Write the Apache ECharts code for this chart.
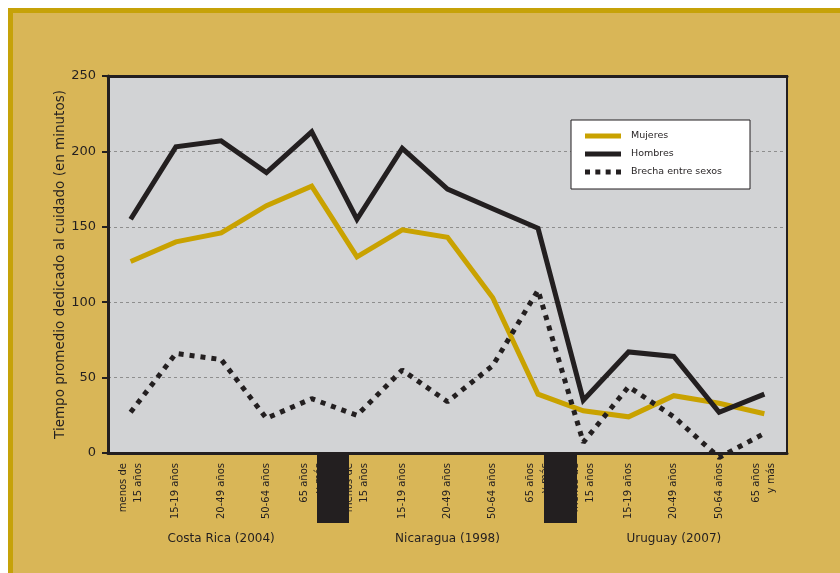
<!DOCTYPE html>
<html>
<head>
<meta charset="utf-8">
<script src="https://cdn.jsdelivr.net/npm/echarts@6/dist/echarts.min.js"></script>
<style>
  html, body { margin: 0; padding: 0; background: #fff; }
  #chart { width: 840px; height: 573px; }
</style>
</head>
<body>
<div id="chart"></div>
<script>
// categorias (3 paises x 5 grupos de edad)
const ageGroups = ['menos de\n15 años', '15-19 años', '20-49 años', '50-64 años', '65 años\ny más'];
const categories = [].concat(ageGroups, ageGroups, ageGroups);
const countries = ['Costa Rica (2004)', 'Nicaragua (1998)', 'Uruguay (2007)'];

const mujeres = [127, 140, 146, 164, 177, 130, 148, 143, 103, 39, 28, 24, 38, 33, 26];
const hombres = [155, 203, 207, 186, 213, 155, 202, 175, 162, 149, 35, 67, 64, 27, 39];
const brecha = [27, 66, 62, 23, 36, 25, 55, 34, 58, 108, 7, 44, 24, -3, 13];

const yTicks = [0, 50, 100, 150, 200, 250];

const dark = '#231F20';
const gold = '#C9A200';
const fontFamily = '"DejaVu Sans", sans-serif';
const dotsIcon = 'path://M0,0h5v5h-5z M10.33,0h5v5h-5z M20.67,0h5v5h-5z M31,0h5v5h-5z';

const chart = echarts.init(document.getElementById('chart'));

const option = {
  backgroundColor: '#fff',
  textStyle: { fontFamily: fontFamily },
  animation: false,
  graphic: [
    {
      type: 'rect',
      z: -10,
      shape: { x: 10.5, y: 10.5, width: 900, height: 700 },
      style: { fill: '#D9B657', stroke: '#C6A208', lineWidth: 5 }
    },
    {
      type: 'rect',
      z: 100,
      shape: { x: 317, y: 453, width: 32, height: 70 },
      style: { fill: dark }
    },
    {
      type: 'rect',
      z: 100,
      shape: { x: 544, y: 453, width: 33, height: 70 },
      style: { fill: dark }
    }
  ],
  grid: {
    left: 108,
    top: 76,
    right: 53,
    bottom: 120,
    show: true,
    backgroundColor: '#D2D3D5',
    borderColor: dark,
    borderWidth: 2
  },
  legend: {
    orient: 'vertical',
    left: 571,
    top: 120,
    backgroundColor: '#fff',
    borderColor: dark,
    borderWidth: 1,
    borderRadius: 0,
    padding: [11, 28, 12, 14],
    itemWidth: 36,
    itemHeight: 5,
    itemGap: 8,
    textStyle: { fontSize: 9.5, color: dark, fontFamily: fontFamily, padding: [0, 0, 0, 5] },
    data: [
      { name: 'Mujeres', icon: 'rect' },
      { name: 'Hombres', icon: 'rect' },
      { name: 'Brecha entre sexos', icon: dotsIcon }
    ]
  },
  xAxis: [
    {
      type: 'category',
      data: categories,
      boundaryGap: true,
      axisLine: { lineStyle: { color: dark, width: 3 } },
      axisTick: { length: 6, lineStyle: { color: dark, width: 2 } },
      axisLabel: {
        interval: 0,
        rotate: 90,
        margin: 10,
        fontSize: 10,
        lineHeight: 15,
        color: dark,
        fontFamily: fontFamily
      }
    },
    {
      type: 'category',
      data: countries,
      position: 'bottom',
      offset: 80,
      axisLine: { show: false },
      axisTick: { show: false },
      axisLabel: { interval: 0, margin: 0, fontSize: 12, color: dark, fontFamily: fontFamily }
    },
    {
      type: 'category',
      data: categories,
      position: 'top',
      axisLine: { lineStyle: { color: dark, width: 3 } },
      axisTick: { show: false },
      axisLabel: { show: false }
    }
  ],
  yAxis: [
    {
      type: 'value',
      min: yTicks[0],
      max: yTicks[yTicks.length - 1],
      interval: 50,
      name: 'Tiempo promedio dedicado al cuidado (en minutos)',
      nameLocation: 'middle',
      nameGap: 41,
      nameMoveOverlap: false,
      nameTextStyle: { fontSize: 13.5, color: dark, fontFamily: fontFamily },
      axisLine: { show: true, lineStyle: { color: dark, width: 3 } },
      axisTick: { show: true, length: 6, lineStyle: { color: dark, width: 2 } },
      axisLabel: { fontSize: 13, color: dark, margin: 12, fontFamily: fontFamily },
      splitLine: { show: true, lineStyle: { color: '#8E8E8E', type: [3, 3], width: 1 } }
    },
    {
      type: 'value',
      position: 'right',
      min: yTicks[0],
      max: yTicks[yTicks.length - 1],
      interval: 50,
      axisLine: { show: true, lineStyle: { color: dark, width: 2 } },
      axisTick: { show: false },
      axisLabel: { show: false },
      splitLine: { show: false }
    }
  ],
  series: [
    {
      name: 'Mujeres',
      type: 'line',
      data: mujeres,
      symbol: 'none',
      clip: false,
      lineStyle: { color: gold, width: 5, join: 'miter' },
      itemStyle: { color: gold },
      z: 3
    },
    {
      name: 'Hombres',
      type: 'line',
      data: hombres,
      symbol: 'none',
      clip: false,
      lineStyle: { color: dark, width: 5, join: 'miter' },
      itemStyle: { color: dark },
      z: 4
    },
    {
      name: 'Brecha entre sexos',
      type: 'line',
      data: brecha,
      symbol: 'none',
      clip: false,
      lineStyle: { color: dark, width: 5, type: [5, 6], cap: 'butt' },
      itemStyle: { color: dark },
      z: 5
    }
  ]
};

chart.setOption(option);
</script>
</body>
</html>
